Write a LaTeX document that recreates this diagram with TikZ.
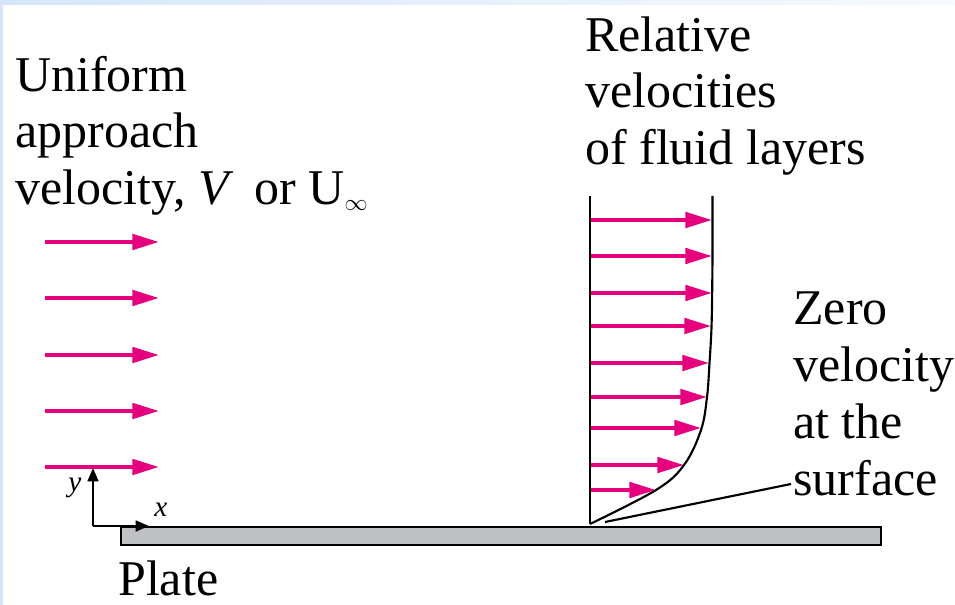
\documentclass[tikz,border=0pt]{standalone}
\usepackage{fontspec}
\setmainfont{Liberation Serif}
\newfontfamily\tnr{Liberation Serif}
\usetikzlibrary{arrows.meta}
\definecolor{flowpink}{RGB}{230,0,126}
\definecolor{plategray}{RGB}{190,192,195}
\definecolor{framebl}{RGB}{214,230,250}
\begin{document}
\begin{tikzpicture}[x=0.75pt,y=-0.75pt,
  lbl/.style={font=\tnr\fontsize{37.5}{43}\selectfont, inner sep=0pt, anchor=base west},
  axlbl/.style={font=\tnr\fontsize{22}{24}\selectfont\itshape, inner sep=0pt},
  flow/.style={flowpink, line width=3pt, -{Triangle[length=20pt,width=11.5pt]}},
  axis/.style={black, line width=2pt, -{Triangle[length=10pt,width=8pt]}},
  thinblk/.style={black, line width=1.6pt}]
\useasboundingbox (0,0) rectangle (955,605);
% frame tint
\fill[left color=framebl, right color=framebl!20] (0,0) rectangle (955,5);
\fill[framebl] (0,0) rectangle (3,605);
% plate
\node[draw=black, line width=1.8pt, fill=plategray, minimum width=760*0.75pt, minimum height=18*0.75pt, inner sep=0pt, anchor=north west] (plate) at (120,526) {};
% axes
\coordinate (O) at (93,526);
\coordinate (ytip) at (93,468);
\coordinate (xtip) at (149,526);
\draw[axis] (O) -- (ytip);
\draw[axis] (O) -- (xtip);
\node[axlbl] (ylab) at (75,488) {y};
\node[axlbl] (xlab) at (161,510) {x};
% uniform arrows
\foreach \yy [count=\i] in {242,298,355,411,467}{
  \coordinate (us\i) at (45,\yy);
  \coordinate (ue\i) at (159,\yy);
  \draw[flow] (us\i) -- (ue\i);
}
% profile
\coordinate (p0) at (590,524);
\coordinate (ptop) at (590,196);
\coordinate (qtop) at (712.5,196);
\draw[black, line width=2.2pt] (p0) -- (ptop);
\draw[thinblk] plot[smooth, tension=0.6] coordinates {(590,524) (656,490) (684,465) (701,430) (707,397) (709.5,363) (711.5,327) (712.3,280) (712.5,240) (712.5,196)};
\foreach \yy/\xx [count=\i] in {220/712,256/712,293/712,326/711,363/709,397/707,428/701,465/684,490/656}{
  \coordinate (ps\i) at (591,\yy);
  \coordinate (pe\i) at (\xx,\yy);
  \draw[flow] (ps\i) -- (pe\i);
}
% leader
\coordinate (lead) at (605,522);
\coordinate (leadS) at (791,484);
\draw[thinblk] (leadS) -- (lead);
% texts
\node[lbl] (t1) at (15,92) {Uniform};
\node[lbl] (t2) at (15,148) {approach};
\node[lbl] (t3) at (15,205) {velocity, \textit{V}\, or U\raisebox{-4pt}{\fontsize{17}{17}\selectfont$\infty$}};
\node[lbl] (r1) at (585,52) {Relative};
\node[lbl] (r2) at (585,108) {velocities};
\node[lbl] (r3) at (585,165) {of fluid layers};
\node[lbl] (z1) at (793,325) {Zero};
\node[lbl] (z2) at (793,382) {velocity};
\node[lbl] (z3) at (793,438) {at the};
\node[lbl] (z4) at (793,495) {surface};
\node[lbl] (pl) at (118,595) {Plate};
\end{tikzpicture}
\end{document}
